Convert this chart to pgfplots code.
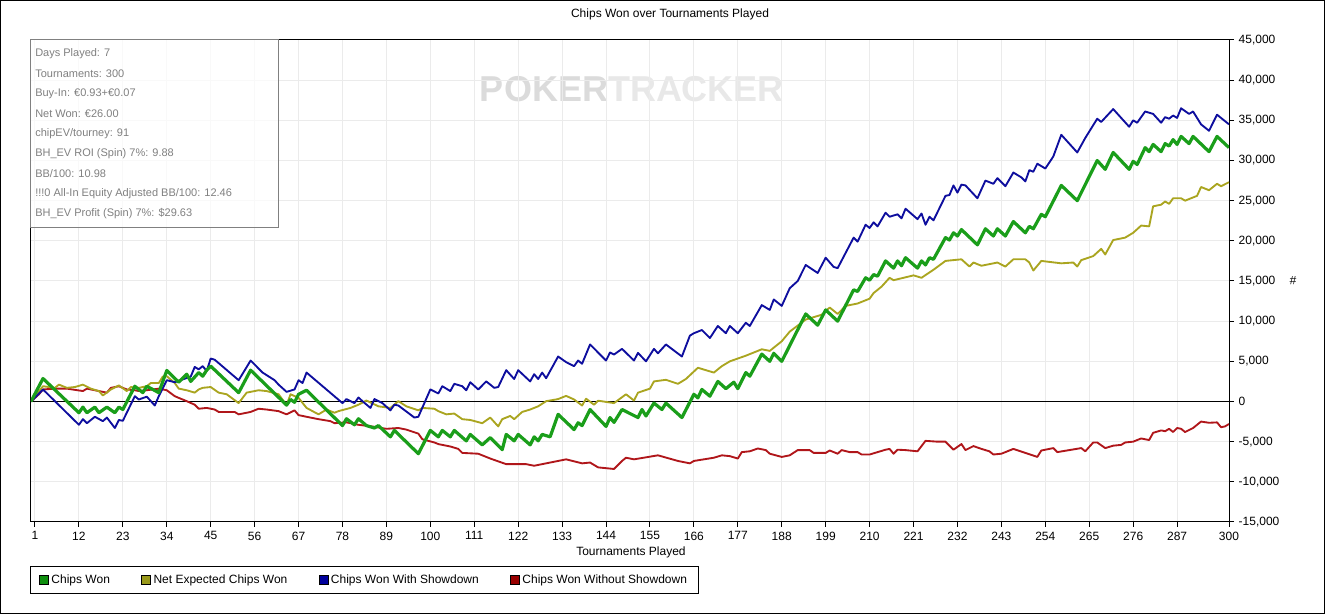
\documentclass[border=0pt]{standalone}
\usepackage{fontspec}
\setmainfont{Liberation Sans}
\usepackage{pgfplots}
\pgfplotsset{compat=1.18}
\definecolor{cgreen}{RGB}{26,158,26}
\definecolor{colive}{RGB}{170,165,32}
\definecolor{cblue}{RGB}{14,14,158}
\definecolor{cred}{RGB}{176,22,26}
\definecolor{lgreen}{RGB}{14,142,14}
\definecolor{lolive}{RGB}{153,153,26}
\definecolor{lblue}{RGB}{0,0,156}
\definecolor{lred}{RGB}{153,0,0}
\definecolor{infogray}{RGB}{128,128,128}
\begin{document}
\begin{tikzpicture}
\useasboundingbox (0,0) rectangle (993.75pt,460.5pt);
\draw[black, line width=0.75pt] (0.375pt,0.375pt) rectangle (993.375pt,460.125pt);
\node[font=\bfseries\fontsize{27}{30}\selectfont, anchor=center] at (474pt,393.5pt)
  {\textcolor{black!14}{POKER}\textcolor{black!9}{TRACKER}};
\begin{axis}[
  at={(23.25pt,69pt)}, anchor=south west,
  scale only axis, width=898.5pt, height=361.5pt,
  xmin=0, xmax=300, ymin=-15000, ymax=45000,
  xtick={1,12,23,34,45,56,67,78,89,100,111,122,133,144,155,166,177,188,199,210,221,232,243,254,265,276,287,300},
  ytick={-15000,-10000,...,45000},
  xtick pos=left, ytick pos=right, yticklabel pos=right,
  tick align=outside, major tick length=3.75pt,
  grid=major, major grid style={draw=black!8, line width=0.75pt},
  axis line style={black, line width=0.75pt},
  tick style={black, line width=0.75pt},
  ticklabel style={font=\fontsize{9}{10}\selectfont},
  /pgf/number format/assume math mode=true,
  yticklabel style={/pgf/number format/.cd, fixed, 1000 sep={,}},
  scaled y ticks=false,
  title={Chips Won over Tournaments Played},
  title style={at={(axis description cs:0.5334,1.0373)}, anchor=center, font=\fontsize{9}{10}\selectfont},
  xlabel={Tournaments Played},
  xlabel style={at={(axis description cs:0.5008,-0.0622)}, anchor=center, font=\fontsize{9}{10}\selectfont},
  ylabel={\#},
  ylabel style={at={(axis description cs:1.0534,0.5)}, anchor=center, rotate=90, font=\fontsize{9}{10}\selectfont},
  legend columns=4,
  legend cell align=left,
  legend style={at={(axis description cs:-0.0008,-0.0913)}, anchor=north west,
    draw=black, line width=0.75pt, font=\fontsize{9}{10}\selectfont,
    /tikz/every even column/.append style={column sep=21.5pt},
    inner xsep=6.5pt, inner ysep=4pt},
]
\addlegendimage{legend image code/.code={\draw[black, fill=lgreen, line width=0.6pt] (0pt,-3.3pt) rectangle (6.6pt,3.3pt);}}
\addlegendentry{Chips Won}
\addlegendimage{legend image code/.code={\draw[black, fill=lolive, line width=0.6pt] (0pt,-3.3pt) rectangle (6.6pt,3.3pt);}}
\addlegendentry{Net Expected Chips Won}
\addlegendimage{legend image code/.code={\draw[black, fill=lblue, line width=0.6pt] (0pt,-3.3pt) rectangle (6.6pt,3.3pt);}}
\addlegendentry{Chips Won With Showdown}
\addlegendimage{legend image code/.code={\draw[black, fill=lred, line width=0.6pt] (0pt,-3.3pt) rectangle (6.6pt,3.3pt);}}
\addlegendentry{Chips Won Without Showdown}

\addplot[black, line width=0.75pt, forget plot] coordinates {(0,0) (300,0)};

% Chips Won Without Showdown
\addplot[cred, line width=1.4pt, line join=round, forget plot] coordinates {
(0,0) (2,900) (3,1500) (6,1600) (9,1600) (13,1300) (14,1600) (17,1300) (19,1100) (20,1700)
(22,1900) (24,1500) (26,1400) (27,1300) (29,1400) (32,1600) (34,1400) (36,660) (37,450) (39,40)
(41,-400) (42,-900) (44,-800) (46,-1000) (47,-1300) (51,-1300) (52,-1600) (55,-1300) (57,-900) (59,-1000)
(62,-1200) (64,-1600) (66,-1100) (67,-1700) (70,-2000) (72,-2200) (75,-2450) (76,-2700) (79,-2600) (82,-2900)
(86,-3150) (89,-3400) (92,-3300) (94,-3500) (97,-4000) (98,-4700) (101,-5100) (102,-5300) (105,-5600) (107,-5900)
(108,-6400) (112,-6500) (115,-7100) (119,-7800) (124,-7800) (126,-8000) (129,-7700) (134,-7200) (138,-7700) (140,-7600)
(142,-8200) (146,-8400) (148,-7400) (149,-7000) (151,-7200) (157,-6700) (162,-7400) (165,-7700) (166,-7400) (171,-7000)
(173,-6700) (175,-6800) (177,-7100) (178,-6300) (180,-6200) (182,-5850) (184,-6050) (185,-6500) (188,-6900) (190,-6700)
(192,-6050) (195,-6050) (196,-6400) (199,-6400) (200,-6100) (202,-6500) (203,-6050) (205,-6300) (207,-6300) (208,-6600)
(210,-6600) (212,-6300) (214,-6000) (215,-5900) (216,-6500) (217,-6000) (219,-6050) (222,-6200) (224,-4900) (227,-5000)
(229,-5000) (231,-6000) (233,-5300) (234,-6050) (236,-5550) (238,-5900) (240,-6200) (241,-6600) (243,-6500) (246,-5900)
(249,-6400) (252,-6900) (253,-6100) (256,-5800) (257,-6300) (263,-5800) (264,-6200) (266,-5100) (267,-5100) (269,-5800)
(271,-5500) (273,-5400) (274,-5100) (276,-5000) (278,-4600) (280,-4800) (281,-3900) (283,-3600) (284,-3700) (285,-3400)
(286,-3800) (287,-3300) (288,-3400) (289,-3800) (291,-3300) (293,-2500) (295,-2650) (297,-2600) (298,-3200) (299,-3100)
(300,-2800)};

% Net Expected Chips Won
\addplot[colive, line width=1.4pt, line join=round, forget plot] coordinates {
(0,0) (3,1900) (6,1700) (7,2100) (9,1700) (11,1800) (13,2100) (15,1600) (17,1300) (18,750)
(20,1500) (22,2000) (24,1300) (25,1800) (27,1700) (29,1900) (30,2300) (32,2300) (33,3100) (34,3150)
(36,2300) (37,1600) (39,1400) (41,1100) (42,1500) (43,1700) (45,1800) (47,1100) (49,900) (52,-200)
(54,1100) (57,1400) (59,1300) (62,900) (64,-450) (65,900) (67,450) (69,-800) (72,-1600) (74,-1000)
(76,-1400) (77,-1200) (80,-800) (82,-400) (84,120) (87,-600) (90,-800) (92,40) (94,-600) (97,-1100)
(98,-800) (101,-900) (102,-1200) (104,-1600) (106,-1500) (108,-2200) (110,-2300) (113,-2700) (115,-2000) (117,-3100)
(118,-2200) (120,-1800) (121,-2200) (123,-1300) (125,-1000) (127,-600) (129,40) (132,300) (134,700) (136,250)
(138,-500) (139,350) (141,-400) (142,100) (146,-200) (149,900) (151,120) (152,1100) (155,1600) (156,2500)
(159,2700) (162,2200) (164,2800) (167,4200) (171,3600) (173,4400) (175,5000) (179,5700) (183,6500) (185,6300)
(188,7500) (190,8700) (194,10200) (198,10800) (200,11700) (202,10900) (204,11900) (207,12200) (210,12800) (211,13500)
(213,14300) (215,15400) (216,15100) (221,15700) (223,15400) (226,16400) (229,17500) (233,17700) (235,16800) (236,17300)
(238,16900) (242,17300) (244,16800) (246,17700) (249,17700) (250,17300) (251,16300) (253,17500) (258,17200) (261,17300)
(262,16800) (263,17600) (266,18100) (268,19000) (269,18300) (271,20100) (274,20400) (276,21000) (278,21900) (280,21800)
(281,24300) (283,24500) (284,24900) (285,24600) (286,25300) (288,25300) (289,25000) (292,25600) (293,26700) (295,26300)
(297,27100) (298,26800) (300,27300)};

% Chips Won With Showdown
\addplot[cblue, line width=1.4pt, line join=round, forget plot] coordinates {
(0,0) (3,1500) (12,-2900) (13,-2200) (14,-2700) (16,-1900) (18,-2450) (19,-2000) (21,-3300) (22,-2300)
(23,-2400) (26,660) (27,250) (29,600) (31,-500) (32,660) (34,2650) (36,2400) (40,3100) (41,4300)
(42,4000) (43,4400) (44,3800) (45,5350) (46,5200) (52,2650) (55,5100) (58,3600) (61,2650) (62,2100)
(64,1200) (66,1500) (67,2650) (68,2300) (69,3600) (78,-200) (79,300) (81,-200) (82,500) (83,40)
(85,-800) (86,300) (88,-200) (90,-1100) (91,-400) (92,-500) (96,-2000) (97,-1900) (100,1500) (102,1000)
(103,1900) (105,1300) (106,2200) (108,1900) (109,1400) (110,2400) (112,1500) (114,2500) (116,1700) (117,1800)
(119,3900) (121,2800) (122,3900) (125,2500) (126,3400) (127,2800) (128,3600) (129,2900) (132,5600) (134,4900)
(136,4400) (137,5100) (138,4700) (140,7100) (144,5100) (145,6100) (146,5850) (148,6550) (151,5100) (152,6050)
(154,5000) (156,6550) (157,6000) (159,7100) (163,5600) (165,8200) (166,8500) (168,8900) (170,7900) (172,9400)
(174,8500) (175,9400) (177,8500) (179,9800) (180,9400) (183,12000) (185,11400) (186,12700) (188,11900) (190,14100)
(192,15000) (194,17000) (197,16000) (199,17900) (201,16750) (202,16600) (206,20400) (207,19900) (209,22000) (210,21600)
(211,22300) (212,21800) (214,23500) (215,23000) (217,23300) (218,22800) (219,24000) (222,22700) (223,23400) (224,22000)
(225,23000) (226,22550) (229,25600) (230,25700) (231,26900) (232,26000) (233,27000) (234,26900) (237,25300) (239,27500)
(241,27100) (242,27800) (244,26800) (246,28500) (248,27900) (249,27400) (250,28800) (251,28600) (252,29600) (254,29000)
(256,30500) (258,33200) (262,31000) (264,32800) (267,35200) (268,34800) (271,36400) (275,34200) (276,35000) (277,34700)
(279,36100) (281,35800) (283,34700) (284,35400) (285,35200) (286,35600) (287,35300) (288,36500) (290,35800) (291,36100)
(293,34500) (295,33700) (297,35700) (300,34500)};

% Chips Won
\addplot[cgreen, line width=2.4pt, line join=round, forget plot] coordinates {
(0,0) (3,2860) (12,-1400) (13,-700) (14,-1400) (16,-700) (17,-1400) (19,-700) (21,-1400) (22,-700)
(23,-1000) (26,1900) (28,1100) (29,1900) (32,1100) (34,3860) (37,2400) (39,3400) (40,2500) (42,3600)
(43,3150) (44,3900) (45,4400) (52,1100) (55,3900) (64,-450) (65,250) (66,-100) (67,900) (69,1400)
(78,-3000) (79,-2150) (81,-2900) (82,-2150) (84,-3000) (86,-3300) (87,-3000) (90,-4400) (91,-3600) (97,-6500)
(100,-3600) (102,-4400) (103,-3600) (105,-4400) (106,-3600) (109,-4900) (110,-4100) (113,-5400) (115,-4500) (118,-6000)
(119,-4100) (121,-4900) (122,-4100) (125,-5400) (126,-4400) (127,-4900) (128,-4100) (130,-4400) (132,-1600) (136,-3500)
(137,-2650) (138,-3000) (140,-1000) (144,-3100) (145,-2000) (146,-2600) (148,-1000) (152,-2000) (153,-1000) (154,-1800)
(156,-200) (158,-1000) (159,-200) (163,-2000) (166,900) (167,450) (168,1500) (170,660) (172,2500) (174,1600)
(176,2400) (177,1600) (179,3600) (180,3150) (183,5900) (185,5000) (186,6000) (188,5000) (194,10900) (197,9500)
(199,11400) (202,10000) (206,13900) (207,13700) (209,15400) (210,15100) (211,15800) (212,15600) (214,17500) (216,16600)
(217,17500) (218,16900) (219,17900) (222,16600) (223,17500) (224,17000) (225,17900) (226,17700) (229,20400) (230,20100)
(231,21000) (232,20600) (233,21400) (237,19500) (239,21500) (241,20600) (242,21500) (244,20600) (246,22400) (249,21000)
(250,21800) (251,21500) (253,23300) (254,23000) (258,26900) (262,25000) (267,30000) (269,28900) (271,31000) (275,28900)
(276,29900) (277,29500) (279,31600) (280,31100) (281,32000) (283,31100) (284,32100) (285,31800) (286,32600) (287,32000)
(288,33000) (290,32100) (291,33000) (295,31100) (297,33000) (300,31600)};
\end{axis}
% info box
\fill[white, fill opacity=0.75] (22.5pt,289.5pt) rectangle (208.5pt,430.5pt);
\draw[infogray, line width=0.75pt] (22.5pt,289.5pt) rectangle (208.5pt,430.5pt);
\begin{scope}[every node/.style={anchor=west, inner sep=0pt, text=infogray, font=\fontsize{8.25}{9}\selectfont}]
\node at (26.25pt,420.2pt) {Days Played: 7};
\node at (26.25pt,405.2pt) {Tournaments: 300};
\node at (26.25pt,390.2pt) {Buy-In: €0.93+€0.07};
\node at (26.25pt,375.2pt) {Net Won: €26.00};
\node at (26.25pt,360.2pt) {chipEV/tourney: 91};
\node at (26.25pt,345.2pt) {BH\_EV ROI (Spin) 7\%: 9.88};
\node at (26.25pt,330.2pt) {BB/100: 10.98};
\node at (26.25pt,315.2pt) {!!!0 All-In Equity Adjusted BB/100: 12.46};
\node at (26.25pt,300.2pt) {BH\_EV Profit (Spin) 7\%: \$29.63};
\end{scope}
\end{tikzpicture}
\end{document}
